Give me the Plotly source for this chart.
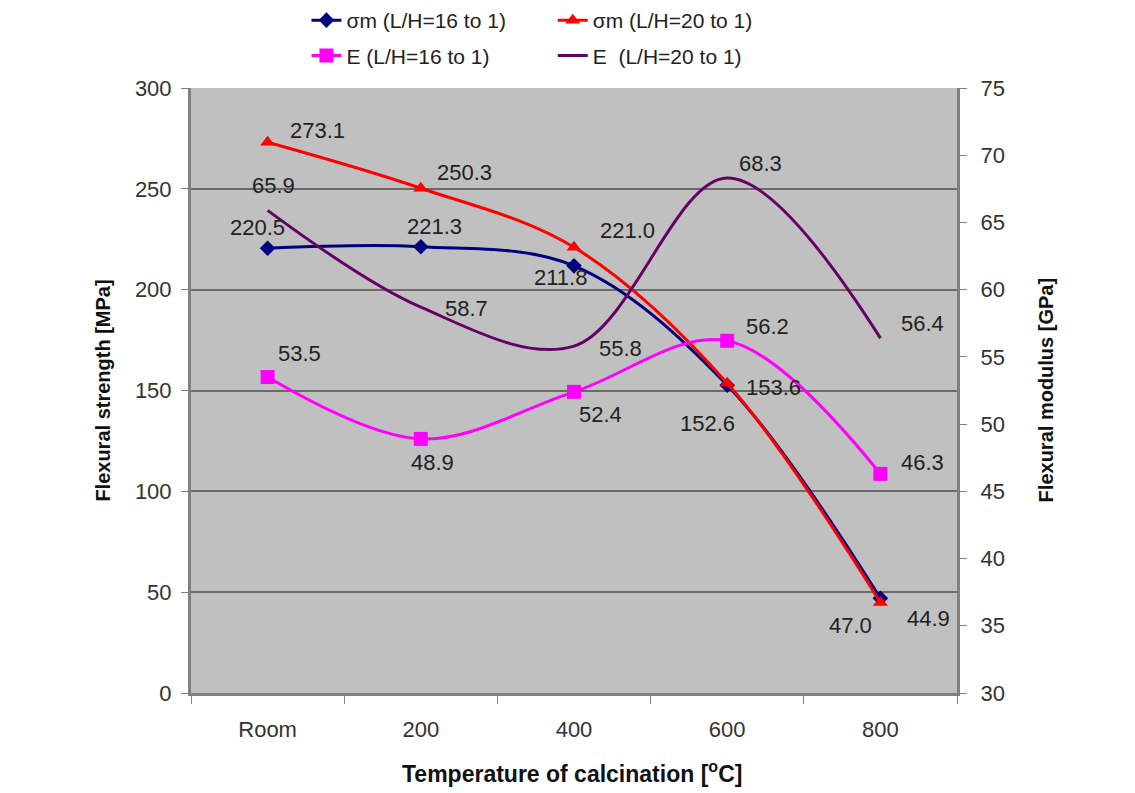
import plotly.graph_objects as go

categories = ["Room", "200", "400", "600", "800"]
sigma_16 = [220.5, 221.3, 211.8, 152.6, 47.0]
sigma_20 = [273.1, 250.3, 221.0, 153.6, 44.9]
e_16 = [53.5, 48.9, 52.4, 56.2, 46.3]
e_20 = [65.9, 58.7, 55.8, 68.3, 56.4]

# label offsets (pixels) for data labels
off_s16 = [(-10, 21), (14, 20), (-14, -12), (-20, -38), (-30, -27)]
off_s20 = [(50, 12), (44, 16), (53, 17), (46, -4), (48, -16)]
off_e16 = [(32, 24), (12, -24), (26, -23), (40, 14), (42, 11)]
off_e20 = [(6, 25), (46, -1), (46, -2), (33, 15), (42, 15)]

FONT = "Liberation Sans, Arial, sans-serif"
fig = go.Figure()

fig.add_trace(go.Scatter(x=categories, y=sigma_16, name="σm (L/H=16 to 1)",
                         mode="lines+markers", line=dict(color="#000080", width=3, shape="spline", smoothing=1.0),
                         marker=dict(symbol="diamond", size=12, color="#000080"),
                         legend="legend", legendgroup="a"))
fig.add_trace(go.Scatter(x=categories, y=e_16, name="E (L/H=16 to 1)", yaxis="y2",
                         mode="lines+markers", line=dict(color="#FF00FF", width=3, shape="spline", smoothing=1.0),
                         marker=dict(symbol="square", size=14, color="#FF00FF"),
                         legend="legend", legendgroup="b"))
fig.add_trace(go.Scatter(x=categories, y=sigma_20, name="σm (L/H=20 to 1)",
                         mode="lines+markers", line=dict(color="#FF0000", width=3, shape="spline", smoothing=1.0),
                         marker=dict(symbol="triangle-up", size=13, color="#FF0000"),
                         legend="legend2", legendgroup="c"))
fig.add_trace(go.Scatter(x=categories, y=e_20, name="E  (L/H=20 to 1)", yaxis="y2",
                         mode="lines", line=dict(color="#660066", width=3, shape="spline", smoothing=1.0),
                         legend="legend2", legendgroup="d"))

anns = []
def add_labels(vals, offs, yref):
    for i, (v, (dx, dy)) in enumerate(zip(vals, offs)):
        anns.append(dict(x=i, y=v, xref="x", yref=yref, text=f"{v:.1f}", showarrow=False,
                         xshift=dx, yshift=dy, font=dict(family=FONT, size=22, color="#222222")))

add_labels(sigma_16, off_s16, "y")
add_labels(sigma_20, off_s20, "y")
add_labels(e_16, off_e16, "y2")
add_labels(e_20, off_e20, "y2")

anns.append(dict(x=-0.133, y=0.5, xref="paper", yref="paper", text="<b>Flexural strength [MPa]</b>",
                 textangle=-90, showarrow=False, font=dict(family=FONT, size=20, color="#111")))
anns.append(dict(x=1.133, y=0.5, xref="paper", yref="paper", text="<b>Flexural modulus [GPa]</b>",
                 textangle=-90, showarrow=False, font=dict(family=FONT, size=20, color="#111")))
anns.append(dict(x=0.497, y=-0.13, xref="paper", yref="paper", yanchor="middle",
                 text="<b>Temperature of calcination [<sup>o</sup>C]</b>",
                 showarrow=False, font=dict(family=FONT, size=23, color="#111")))

legend_style = dict(orientation="v", bgcolor="rgba(0,0,0,0)", font=dict(family=FONT, size=21, color="#222"),
                    tracegroupgap=5, yanchor="top", xanchor="left", itemwidth=30,
                    yref="container", xref="container")

fig.update_layout(
    width=1135, height=793,
    margin=dict(l=191, r=178, t=88, b=100, autoexpand=False),
    paper_bgcolor="white", plot_bgcolor="#C0C0C0",
    font=dict(family=FONT, size=22, color="#333"),
    annotations=anns,
    legend=dict(x=0.27, y=1.0, **legend_style),
    legend2=dict(x=0.487, y=1.0, **legend_style),
    xaxis=dict(type="category", showgrid=False, tickson="boundaries", ticks="outside", ticklen=8,
               tickcolor="#808080", showline=True, linecolor="#808080", linewidth=3,
               ticklabelstandoff=15,
               tickfont=dict(family=FONT, size=22, color="#333"), range=[-0.5, 4.5]),
    yaxis=dict(range=[0, 300], dtick=50, showgrid=True, gridcolor="#6a6a6a", gridwidth=2,
               ticks="outside", ticklen=7, tickcolor="#808080", showline=True, linecolor="#808080",
               linewidth=3, zeroline=False, ticklabelstandoff=5,
               tickfont=dict(family=FONT, size=22, color="#333")),
    yaxis2=dict(range=[30, 75], dtick=5, overlaying="y", side="right", showgrid=False,
                ticks="outside", ticklen=7, tickcolor="#808080", showline=True, linecolor="#808080",
                linewidth=3, zeroline=False, ticklabelstandoff=9,
                tickfont=dict(family=FONT, size=22, color="#333")),
)

fig.write_html("out.html", config={"displayModeBar": False},
               post_script="document.body.style.margin='0';")
